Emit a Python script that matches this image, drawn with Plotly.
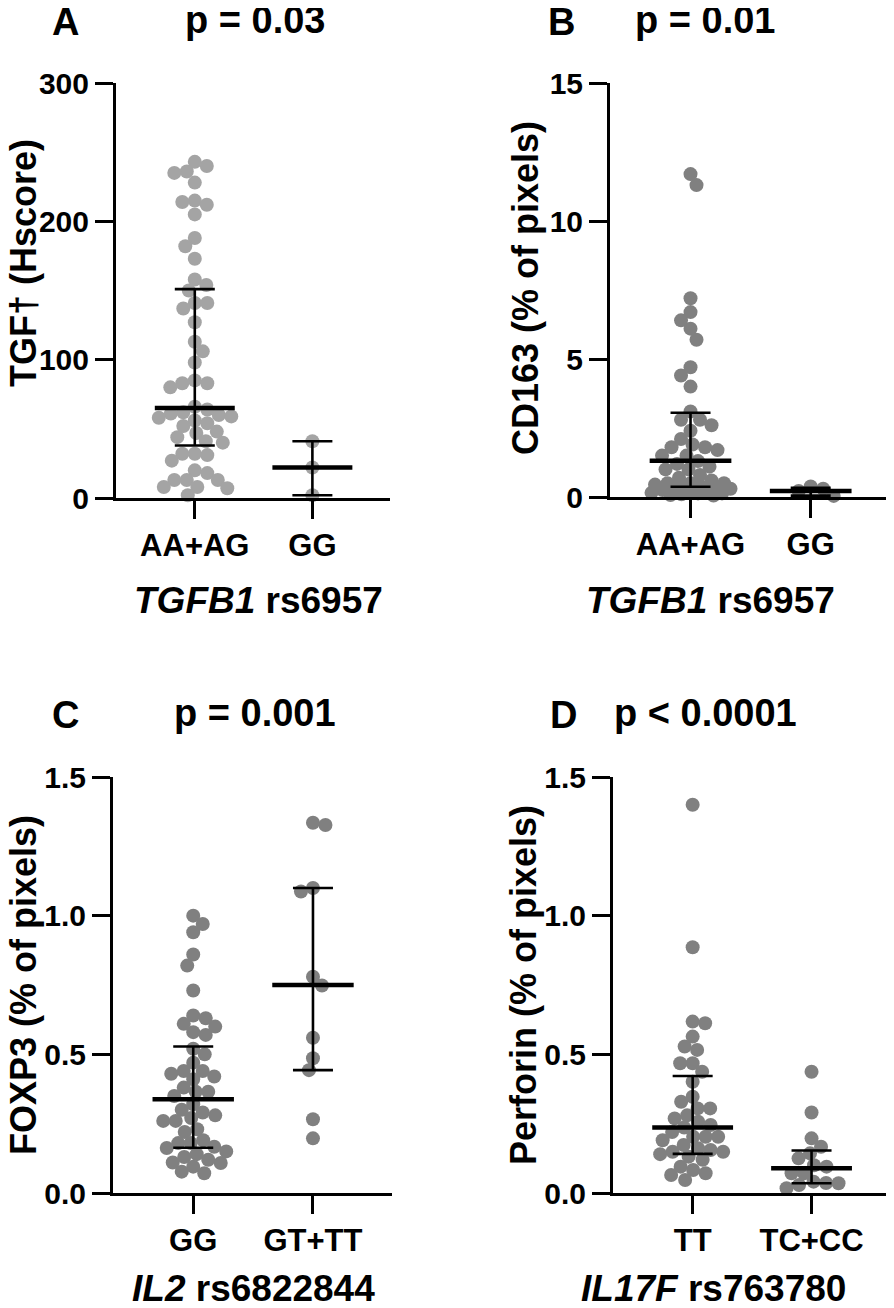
import numpy as np
import plotly.graph_objects as go

# page body has an 8px margin: build the figure 8px smaller and shift all
# target (screen) coordinates by that margin
OFF = 8
W, H = 894 - OFF, 1308 - OFF
FONT = "Liberation Sans, Arial, sans-serif"

# ---------------- data ----------------
a_cats = ["AA+AG", "GG"]
a_aa_ag = [243, 240, 236, 235, 228, 215, 214, 212, 205, 188, 182, 173, 158, 154, 150,
           141, 141, 137, 127, 113, 106, 98, 85, 83, 83, 80, 66, 64, 62, 61, 60, 59, 58,
           56, 54, 52, 48, 47, 44, 41, 40, 32, 32, 31, 27, 20, 18, 13, 13, 13, 8, 8, 7, 2]
a_gg = [41, 22, 2]
a_median = [65, 22]
a_q1 = [38, 2]
a_q3 = [151, 41]

b_cats = ["AA+AG", "GG"]
b_aa_ag = [11.7, 11.3, 7.2, 6.7, 6.4, 6.1, 5.7, 4.7, 4.4, 4.0, 3.1, 2.8, 2.8, 2.6, 2.4,
           2.1, 1.9, 1.8, 1.8, 1.7, 1.5, 1.5, 1.3, 1.2, 1.1, 1.0, 1.0, 0.8, 0.7, 0.6, 0.5,
           0.5, 0.5, 0.45, 0.4, 0.4, 0.37, 0.35, 0.3, 0.25, 0.2, 0.19, 0.15, 0.13, 0.13,
           0.1, 0.07, 0.05]
b_gg = [0.38, 0.30, 0.22, 0.04]
b_median = [1.31, 0.22]
b_q1 = [0.37, 0.05]
b_q3 = [3.05, 0.33]

c_cats = ["GG", "GT+TT"]
c_gg = [1.0, 0.97, 0.94, 0.86, 0.82, 0.73, 0.64, 0.63, 0.61, 0.60, 0.58, 0.57, 0.52, 0.50,
        0.47, 0.44, 0.44, 0.43, 0.42, 0.41, 0.38, 0.365, 0.365, 0.35, 0.32, 0.30, 0.29,
        0.28, 0.27, 0.26, 0.26, 0.23, 0.22, 0.19, 0.18, 0.18, 0.167, 0.162, 0.15, 0.14,
        0.13, 0.12, 0.11, 0.108, 0.095, 0.077, 0.071]
c_gt_tt = [1.335, 1.327, 1.10, 1.087, 0.78, 0.748, 0.56, 0.486, 0.443, 0.266, 0.197]
c_median = [0.338, 0.75]
c_q1 = [0.163, 0.443]
c_q3 = [0.528, 1.10]

d_cats = ["TT", "TC+CC"]
d_tt = [1.40, 0.886, 0.618, 0.612, 0.564, 0.528, 0.516, 0.468, 0.468, 0.437, 0.401, 0.347,
        0.329, 0.305, 0.305, 0.28, 0.269, 0.257, 0.245, 0.236, 0.22, 0.203, 0.203, 0.203,
        0.19, 0.173, 0.161, 0.155, 0.149, 0.149, 0.14, 0.131, 0.12, 0.095, 0.083, 0.071,
        0.065, 0.047]
d_tc_cc = [0.437, 0.29, 0.197, 0.167, 0.143, 0.125, 0.10, 0.095, 0.071, 0.071, 0.041,
           0.036, 0.035, 0.029, 0.017]
d_median = [0.236, 0.089]
d_q1 = [0.141, 0.035]
d_q3 = [0.422, 0.153]

# ---------------- panel layout (screen pixel targets) ----------------
XR = [-0.67, 1.66]
panels = [
    dict(letter="A", p="p = 0.03", ytitle="TGF\u2020 (Hscore)", xtitle="<i>TGFB1</i> rs6957",
         cats=a_cats, groups=[a_aa_ag, a_gg], med=a_median, q1=a_q1, q3=a_q3,
         yr=[0, 300], dtick=100, fmt="d", color="#a4a4a4",
         box=(116, 390, 83, 498), letter_xy=(65, 22), p_xy=(255, 20),
         yt_xy=(24, 263), xt_xy=(258, 600)),
    dict(letter="B", p="p = 0.01", ytitle="CD163 (% of pixels)", xtitle="<i>TGFB1</i> rs6957",
         cats=b_cats, groups=[b_aa_ag, b_gg], med=b_median, q1=b_q1, q3=b_q3,
         yr=[0, 15], dtick=5, fmt="d", color="#808080",
         box=(610, 890, 83, 497), letter_xy=(561, 22), p_xy=(705, 20),
         yt_xy=(525, 288), xt_xy=(710, 600)),
    dict(letter="C", p="p = 0.001", ytitle="FOXP3 (% of pixels)", xtitle="<i>IL2</i> rs6822844",
         cats=c_cats, groups=[c_gg, c_gt_tt], med=c_median, q1=c_q1, q3=c_q3,
         yr=[0, 1.5], dtick=0.5, fmt=".1f", color="#808080",
         box=(113, 392, 777, 1193), letter_xy=(65, 715), p_xy=(255, 713),
         yt_xy=(24, 985), xt_xy=(254, 1288)),
    dict(letter="D", p="p < 0.0001", ytitle="Perforin (% of pixels)", xtitle="<i>IL17F</i> rs763780",
         cats=d_cats, groups=[d_tt, d_tc_cc], med=d_median, q1=d_q1, q3=d_q3,
         yr=[0, 1.5], dtick=0.5, fmt=".1f", color="#808080",
         box=(613, 890, 777, 1193), letter_xy=(563, 715), p_xy=(705, 713),
         yt_xy=(524, 985), xt_xy=(713, 1288)),
]


def swarm(values, ppy, ppx, d=12.5, maxw=40.0):
    """Greedy beeswarm (pixel space) with a width cap; overlaps allowed when crowded."""
    vals = np.asarray(values, dtype=float)
    order = np.argsort(-vals)
    placed = []
    xs = np.zeros(len(vals))
    flip = 1
    steps = np.arange(0, maxw + 0.01, 0.5)
    for i in order:
        y = vals[i] * ppy
        best, best_score = None, -1.0
        for s in steps:
            cands = [0.0] if s == 0 else [flip * s, -flip * s]
            for off in cands:
                if placed:
                    dmin = min(np.hypot(off - px, y - py) for px, py in placed)
                else:
                    dmin = 1e9
                if dmin >= d:
                    best, best_score = off, 1e9
                    break
                if dmin > best_score + 0.8:
                    best, best_score = off, dmin
            if best_score >= 1e9:
                break
        if best != 0:
            flip = -flip
        placed.append((best, y))
        xs[i] = best / ppx
    return xs


def fx(px):
    return (px - OFF) / W


def fy(py):
    return 1 - (py - OFF) / H


fig = go.Figure()
annotations = []
axis_common = dict(showline=True, linewidth=3, linecolor="black", ticks="outside",
                   ticklen=18, tickwidth=3, tickcolor="black", showgrid=False,
                   zeroline=False, fixedrange=True, automargin=False)

for n, P in enumerate(panels, start=1):
    x0, x1, ytop, ybot = P["box"]
    xa = "x" if n == 1 else f"x{n}"
    ya = "y" if n == 1 else f"y{n}"
    ppx = (x1 - x0) / (XR[1] - XR[0])
    ppy = (ybot - ytop) / (P["yr"][1] - P["yr"][0])

    for gi, vals in enumerate(P["groups"]):
        offs = swarm(vals, ppy, ppx)
        fig.add_trace(go.Scatter(
            x=gi + offs, y=vals, mode="markers", xaxis=xa, yaxis=ya,
            marker=dict(size=14, color=P["color"], line=dict(width=0)),
            cliponaxis=False, showlegend=False, hoverinfo="skip"))

    for gi in range(len(P["cats"])):
        med, lo, hi = P["med"][gi], P["q1"][gi], P["q3"][gi]
        fig.add_trace(go.Scatter(
            x=[gi], y=[med], mode="markers", xaxis=xa, yaxis=ya,
            marker=dict(size=1, color="rgba(0,0,0,0)"),
            error_y=dict(type="data", symmetric=False, array=[hi - med],
                         arrayminus=[med - lo], color="black", thickness=2.6, width=20),
            cliponaxis=False, showlegend=False, hoverinfo="skip"))
        fig.add_trace(go.Scatter(
            x=[gi - 0.34, gi + 0.34], y=[med, med], mode="lines", xaxis=xa, yaxis=ya,
            line=dict(color="black", width=4.5),
            cliponaxis=False, showlegend=False, hoverinfo="skip"))

    xkey = "xaxis" if n == 1 else f"xaxis{n}"
    ykey = "yaxis" if n == 1 else f"yaxis{n}"
    fig.update_layout(**{
        xkey: dict(axis_common, domain=[fx(x0), fx(x1)], anchor=ya, range=XR,
                   tickvals=[0, 1], ticktext=P["cats"],
                   tickfont=dict(family=FONT, size=31, color="black", weight="bold")),
        ykey: dict(axis_common, domain=[fy(ybot), fy(ytop)], anchor=xa,
                   range=P["yr"], tick0=0, dtick=P["dtick"], tickformat=P["fmt"],
                   tickfont=dict(family=FONT, size=30, color="black", weight="bold")),
    })

    def ann(text, xy, size, angle=0):
        annotations.append(dict(
            text=text, x=fx(xy[0]), y=fy(xy[1]), xref="paper", yref="paper",
            xanchor="center", yanchor="middle", showarrow=False, textangle=angle,
            font=dict(family=FONT, size=size, color="black", weight="bold")))

    ann(P["letter"], P["letter_xy"], 38)
    ann(P["p"], P["p_xy"], 38)
    ann(P["ytitle"], P["yt_xy"], 36, angle=-90)
    ann(P["xtitle"], P["xt_xy"], 37)

fig.update_layout(width=W, height=H, autosize=False,
                  margin=dict(l=0, r=0, t=0, b=0, pad=0, autoexpand=False),
                  paper_bgcolor="white", plot_bgcolor="white",
                  annotations=annotations)

fig.write_html("out.html")
